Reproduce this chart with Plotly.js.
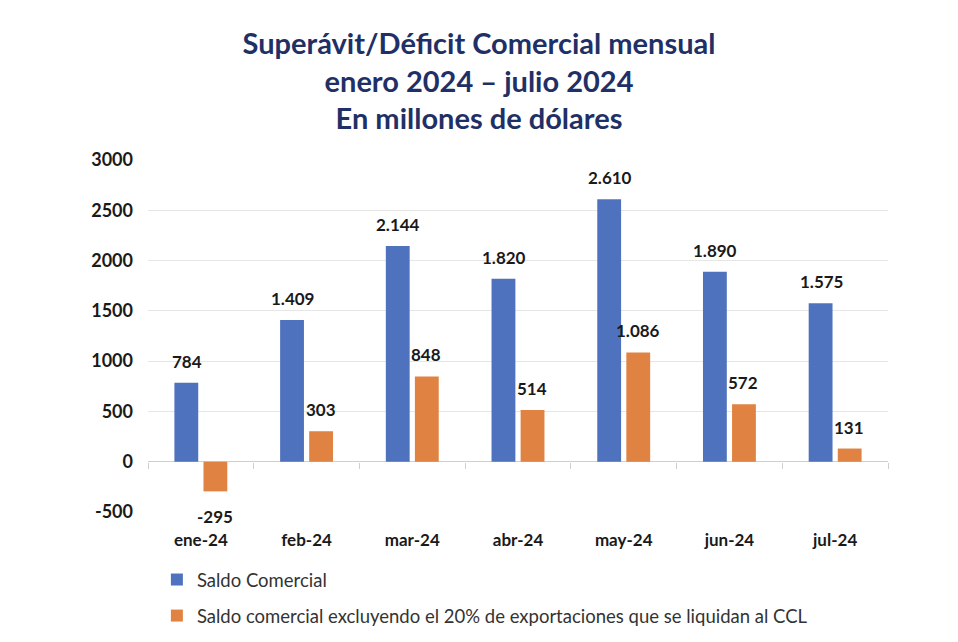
<!DOCTYPE html>
<html><head><meta charset="utf-8">
<script src="https://cdn.plot.ly/plotly-3.0.1.min.js"></script>
<style>html,body{margin:0;padding:0;background:#fff}#chart{width:958px;height:642px}</style>
</head><body><div id="chart"></div>
<script>
const categories = ["ene-24","feb-24","mar-24","abr-24","may-24","jun-24","jul-24"];
const saldoComercial = [784, 1409, 2144, 1820, 2610, 1890, 1575];
const saldoExcluyendo = [-295, 303, 848, 514, 1086, 572, 131];
const seriesNames = ["Saldo Comercial", "Saldo comercial excluyendo el 20% de exportaciones que se liquidan al CCL"];
const yTicks = [-500, 0, 500, 1000, 1500, 2000, 2500, 3000];

function esNum(v){
  const s = Math.abs(v).toString().replace(/\B(?=(\d{3})+(?!\d))/g, ".");
  return (v < 0 ? "-" : "") + s;
}

const font = "Lato, 'Open Sans', sans-serif";
const traces = [
  {type:"bar", x:categories, y:saldoComercial, name:seriesNames[0], marker:{color:"#4F72BE"}, legendgroup:"a", hoverinfo:"none"},
  {type:"bar", x:categories, y:saldoExcluyendo, name:seriesNames[1], marker:{color:"#E08342"}, legendgroup:"b", hoverinfo:"none"}
];

const annotations = [];
[saldoComercial, saldoExcluyendo].forEach((arr, ti) => {
  arr.forEach((v, i) => {
    annotations.push({
      x: categories[i], y: v, xref:"x", yref:"y",
      xshift: ti === 0 ? -14 : 14,
      yshift: v >= 0 ? 9 : -13,
      yanchor: v >= 0 ? "bottom" : "top",
      text: "<b>" + esNum(v) + "</b>",
      showarrow:false,
      font:{family:font, size:17, color:"#1a1a1a"}
    });
  });
});

const layout = {
  width:958, height:642,
  margin:{l:148, r:70, t:160, b:130, autoexpand:false},
  paper_bgcolor:"#fff", plot_bgcolor:"#fff",
  title:{text:"<b>Superávit/Déficit Comercial mensual<br>enero 2024 – julio 2024<br>En millones de dólares</b>",
    x:0.5, xanchor:"center", yref:"container", y:1 - 54/642, yanchor:"middle",
    font:{family:font, size:29, color:"#1F3066"}},
  barmode:"group", bargap:0.45, bargroupgap:0.18,
  xaxis:{type:"category", showline:false, ticks:"", showgrid:false, zeroline:false,
    tickfont:{family:font, size:17, color:"#1a1a1a", weight:"bold"}, ticklabelstandoff:16},
  yaxis:{range:[-500,3000], tickvals:yTicks, ticktext:yTicks.map(String), showgrid:true, gridcolor:"#e6e6e6", gridwidth:1,
    zeroline:true, zerolinecolor:"#cfcfcf", zerolinewidth:1.5, showline:false, ticks:"", ticklabelstandoff:14,
    tickfont:{family:font, size:18, color:"#1a1a1a", weight:"bold"}},
  xaxis2:{matches:"x", overlaying:"x", anchor:"free", position:0.142857, type:"category",
    showline:false, ticks:"outside", tickson:"boundaries", ticklen:6, tickcolor:"#cfcfcf", showticklabels:false, showgrid:false, zeroline:false},
  showlegend:true,
  legend:{orientation:"v", x:0.012, xanchor:"left", yref:"container", y:(642-561)/642, yanchor:"top", traceorder:"grouped", tracegroupgap:9,
    font:{family:font, size:18.5, color:"#333"}},
  annotations:annotations
};

traces.push({type:"bar", x:categories, y:categories.map(()=>0), xaxis:"x2", showlegend:false, hoverinfo:"none", marker:{color:"rgba(0,0,0,0)"}});

Plotly.newPlot("chart", traces, layout, {displayModeBar:false, staticPlot:true});
</script></body></html>
